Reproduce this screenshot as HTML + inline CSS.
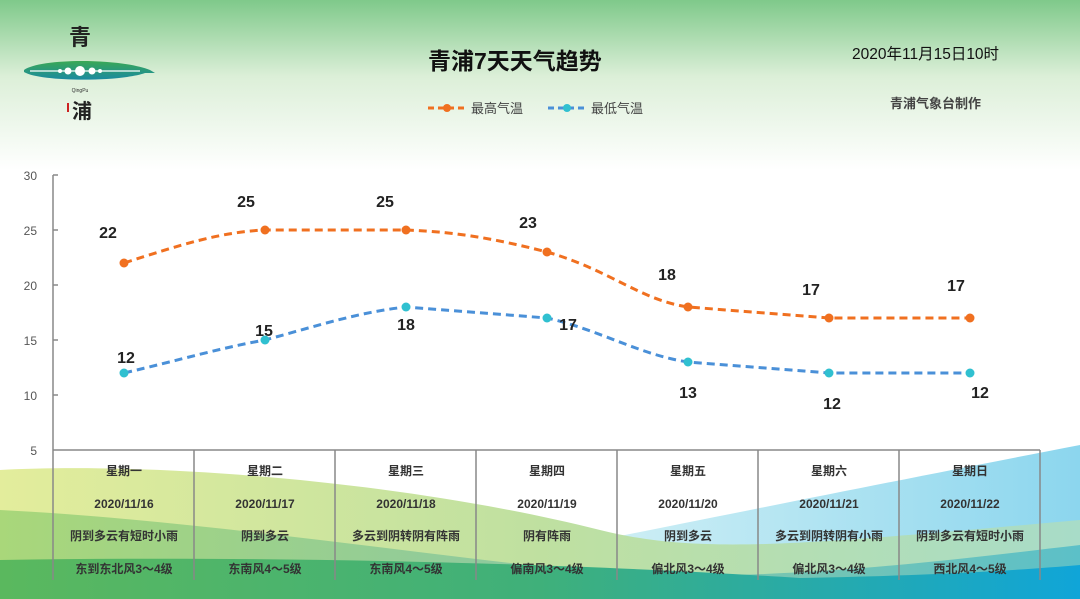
<!DOCTYPE html>
<html><head><meta charset="utf-8"><style>
html,body{margin:0;padding:0;width:1080px;height:599px;overflow:hidden;background:#fff}
svg{display:block}
text{font-family:"Liberation Sans","Noto Sans CJK SC",sans-serif}
</style></head><body>
<svg width="1080" height="599" viewBox="0 0 1080 599" xmlns="http://www.w3.org/2000/svg">
<defs>
<linearGradient id="top" x1="0" y1="0" x2="0" y2="1">
<stop offset="0" stop-color="#7fc98a"/><stop offset="0.45" stop-color="#dcefd8"/><stop offset="1" stop-color="#ffffff"/>
</linearGradient>
<linearGradient id="g1" x1="0" y1="0" x2="1" y2="0">
<stop offset="0" stop-color="#e3ed9c"/><stop offset="0.5" stop-color="#bfe0a0"/><stop offset="1" stop-color="#a8dcc8"/>
</linearGradient>
<linearGradient id="g2" x1="0" y1="0" x2="1" y2="0">
<stop offset="0" stop-color="#a9d77a"/><stop offset="0.5" stop-color="#8cc9a0"/><stop offset="1" stop-color="#5cc0c8"/>
</linearGradient>
<linearGradient id="g3" x1="0" y1="0" x2="1" y2="0">
<stop offset="0" stop-color="#5ab85e"/><stop offset="0.5" stop-color="#3fb07a"/><stop offset="1" stop-color="#10a5d8"/>
</linearGradient>
<linearGradient id="gb" x1="0" y1="0" x2="1" y2="0">
<stop offset="0" stop-color="#cfeff5"/><stop offset="1" stop-color="#8cd6ee"/>
</linearGradient>
<linearGradient id="leaf" x1="0" y1="0" x2="0" y2="1">
<stop offset="0" stop-color="#3aa855"/><stop offset="1" stop-color="#1a8aa0"/>
</linearGradient>
</defs>
<rect width="1080" height="170" fill="url(#top)"/>
<!-- bottom swooshes -->
<path d="M600,540 C800,500 950,470 1080,445 L1080,599 L600,599 Z" fill="url(#gb)"/>
<path d="M0,470 C150,462 400,480 600,530 C700,555 800,545 1080,520 L1080,599 L0,599 Z" fill="url(#g1)"/>
<path d="M0,510 C200,520 420,555 620,575 C800,580 950,560 1080,545 L1080,599 L0,599 Z" fill="url(#g2)"/>
<path d="M0,560 C300,555 600,565 800,578 C950,575 1020,570 1080,565 L1080,599 L0,599 Z" fill="url(#g3)"/>
<!-- logo -->
<text x="80" y="45" font-size="22" font-family="Noto Serif CJK SC,serif" fill="#222" text-anchor="middle" font-weight="bold">青</text>
<path d="M24,70 C40,58 120,58 150,70 L155,73 L145,73 C120,82 40,82 24,72 Z" fill="url(#leaf)"/>
<line x1="30" y1="71" x2="140" y2="71" stroke="#fff" stroke-width="1.2"/>
<circle cx="80" cy="71" r="5" fill="#fff"/><circle cx="68" cy="71" r="3.5" fill="#fff"/><circle cx="92" cy="71" r="3.5" fill="#fff"/><circle cx="60" cy="71" r="2" fill="#fff"/><circle cx="100" cy="71" r="2" fill="#fff"/>
<text x="80" y="92" font-size="5" fill="#333" text-anchor="middle">QingPu</text>
<rect x="67" y="103" width="2" height="9" fill="#c22"/>
<text x="82" y="118" font-size="20" font-family="Noto Serif CJK SC,serif" fill="#222" text-anchor="middle" font-weight="bold">浦</text>
<!-- title -->
<text x="428" y="69" font-size="23" font-weight="bold" fill="#111">青浦7天天气趋势</text>
<text x="852" y="59" font-size="15.5" fill="#111">2020年11月15日10时</text>
<text x="890" y="108" font-size="13" font-weight="bold" fill="#444">青浦气象台制作</text>
<!-- legend -->
<line x1="428" y1="108" x2="466" y2="108" stroke="#f07020" stroke-width="3" stroke-dasharray="6,4"/>
<circle cx="447" cy="108" r="4" fill="#f07020"/>
<text x="471" y="113" font-size="13" fill="#444">最高气温</text>
<line x1="548" y1="108" x2="586" y2="108" stroke="#4a90d8" stroke-width="3" stroke-dasharray="6,4"/>
<circle cx="567" cy="108" r="4" fill="#30c0d0"/>
<text x="591" y="113" font-size="13" fill="#444">最低气温</text>
<!-- axes -->
<g stroke="#888" stroke-width="1.5" fill="none">
<line x1="53" y1="175" x2="53" y2="580"/>
<line x1="53" y1="175" x2="58" y2="175"/><line x1="53" y1="230" x2="58" y2="230"/><line x1="53" y1="285" x2="58" y2="285"/><line x1="53" y1="340" x2="58" y2="340"/><line x1="53" y1="395" x2="58" y2="395"/>
<line x1="53" y1="450" x2="1040" y2="450"/>
<line x1="1040" y1="450" x2="1040" y2="580"/>
<line x1="194" y1="450" x2="194" y2="580"/><line x1="335" y1="450" x2="335" y2="580"/><line x1="476" y1="450" x2="476" y2="580"/><line x1="617" y1="450" x2="617" y2="580"/><line x1="758" y1="450" x2="758" y2="580"/><line x1="899" y1="450" x2="899" y2="580"/>
</g>
<g font-size="12" fill="#555" text-anchor="end">
<text x="37" y="180">30</text><text x="37" y="235">25</text><text x="37" y="290">20</text><text x="37" y="345">15</text><text x="37" y="400">10</text><text x="37" y="455">5</text>
</g>
<!-- series -->
<path d="M124,263 C180,245 220,232 265,230 L406,230 C460,232 500,240 547,252 C610,270 640,300 688,307 L829,318 L970,318" fill="none" stroke="#f07020" stroke-width="3" stroke-dasharray="8,5"/>
<path d="M124,373 C180,360 220,348 265,340 C320,325 360,312 406,307 L547,318 C600,330 640,355 688,362 L829,373 L970,373" fill="none" stroke="#4a90d8" stroke-width="3" stroke-dasharray="8,5"/>
<g fill="#f07020"><circle cx="124" cy="263" r="4.5"/><circle cx="265" cy="230" r="4.5"/><circle cx="406" cy="230" r="4.5"/><circle cx="547" cy="252" r="4.5"/><circle cx="688" cy="307" r="4.5"/><circle cx="829" cy="318" r="4.5"/><circle cx="970" cy="318" r="4.5"/></g>
<g fill="#30c0d0"><circle cx="124" cy="373" r="4.5"/><circle cx="265" cy="340" r="4.5"/><circle cx="406" cy="307" r="4.5"/><circle cx="547" cy="318" r="4.5"/><circle cx="688" cy="362" r="4.5"/><circle cx="829" cy="373" r="4.5"/><circle cx="970" cy="373" r="4.5"/></g>
<g font-size="16" font-weight="bold" fill="#222" text-anchor="middle">
<text x="108" y="238">22</text><text x="246" y="207">25</text><text x="385" y="207">25</text><text x="528" y="228">23</text><text x="667" y="280">18</text><text x="811" y="295">17</text><text x="956" y="291">17</text>
<text x="126" y="363">12</text><text x="264" y="336">15</text><text x="406" y="330">18</text><text x="568" y="330">17</text><text x="688" y="398">13</text><text x="832" y="409">12</text><text x="980" y="398">12</text>
</g>
<g font-size="12" font-weight="bold" fill="#333" text-anchor="middle">
<text x="124" y="475">星期一</text><text x="265" y="475">星期二</text><text x="406" y="475">星期三</text><text x="547" y="475">星期四</text><text x="688" y="475">星期五</text><text x="829" y="475">星期六</text><text x="970" y="475">星期日</text>
<text x="124" y="508">2020/11/16</text><text x="265" y="508">2020/11/17</text><text x="406" y="508">2020/11/18</text><text x="547" y="508">2020/11/19</text><text x="688" y="508">2020/11/20</text><text x="829" y="508">2020/11/21</text><text x="970" y="508">2020/11/22</text>
<text x="124" y="540">阴到多云有短时小雨</text><text x="265" y="540">阴到多云</text><text x="406" y="540">多云到阴转阴有阵雨</text><text x="547" y="540">阴有阵雨</text><text x="688" y="540">阴到多云</text><text x="829" y="540">多云到阴转阴有小雨</text><text x="970" y="540">阴到多云有短时小雨</text>
<text x="124" y="573">东到东北风3～4级</text><text x="265" y="573">东南风4～5级</text><text x="406" y="573">东南风4～5级</text><text x="547" y="573">偏南风3～4级</text><text x="688" y="573">偏北风3～4级</text><text x="829" y="573">偏北风3～4级</text><text x="970" y="573">西北风4～5级</text>
</g>
</svg>
</body></html>
